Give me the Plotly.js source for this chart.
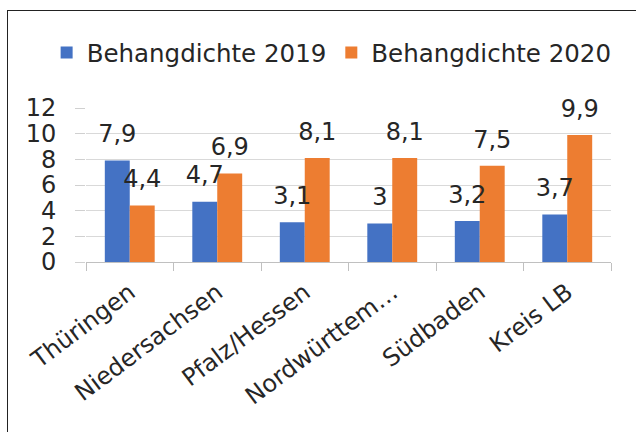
<!DOCTYPE html>
<html>
<head>
<meta charset="utf-8">
<script src="https://cdn.plot.ly/plotly-3.0.1.min.js"></script>
<style>
  html, body { margin: 0; padding: 0; background: #fff; }
  #wrap { position: relative; width: 636px; height: 432px; overflow: hidden; }
  #chart { position: absolute; left: 0; top: 0; width: 636px; height: 432px; }
  #frame { position: absolute; left: 7px; top: 10px; width: 700px; height: 600px;
           border: 1px solid #222; pointer-events: none; }
</style>
</head>
<body>
<div id="wrap">
  <div id="chart"></div>
  <div id="frame"></div>
</div>
<script>
const categories = ["Thüringen", "Niedersachsen", "Pfalz/Hessen", "Nordwürttem…", "Südbaden", "Kreis LB"];
const values2019 = [7.9, 4.7, 3.1, 3, 3.2, 3.7];
const values2020 = [4.4, 6.9, 8.1, 8.1, 7.5, 9.9];
const seriesNames = ["Behangdichte 2019", "Behangdichte 2020"];
const yTicks = [0, 2, 4, 6, 8, 10, 12];

const colors = ["#4472C4", "#ED7D31"];
const font = "DejaVu Sans";
const textColor = "#262626";
const fmt = v => String(v).replace(".", ",");

const series = [values2019, values2020];
const traces = [];
series.forEach((vals, i) => {
  traces.push({
    type: "bar",
    name: seriesNames[i],
    x: categories,
    y: vals,
    marker: { color: colors[i] },
    offsetgroup: "g" + i,
    hoverinfo: "skip"
  });
});
series.forEach((vals, i) => {
  traces.push({
    type: "scatter",
    mode: "markers+text",
    x: categories,
    y: vals,
    offsetgroup: "g" + i,
    text: vals.map(fmt),
    textposition: "top center",
    textfont: { family: font, size: 24, color: textColor },
    marker: { size: 18, opacity: 0 },
    showlegend: false,
    cliponaxis: false,
    hoverinfo: "skip"
  });
});

const layout = {
  width: 636,
  height: 432,
  margin: { l: 86, r: 25, t: 108, b: 170 },
  paper_bgcolor: "rgba(0,0,0,0)",
  plot_bgcolor: "#fff",
  font: { family: font, color: textColor },
  barmode: "group",
  bargap: 0.43,
  bargroupgap: 0,
  scattermode: "group",
  showlegend: true,
  legend: {
    orientation: "h",
    x: -0.075, xanchor: "left",
    y: 1.36, yanchor: "middle",
    font: { family: font, size: 24.5, color: textColor },
    traceorder: "normal"
  },
  xaxis: {
    type: "category",
    tickangle: -37,
    tickfont: { family: font, size: 24, color: textColor },
    showline: true,
    linecolor: "#c0c0c0",
    linewidth: 1,
    ticks: "outside",
    tickson: "boundaries",
    ticklen: 8,
    tickcolor: "#c0c0c0",
    showgrid: false,
    zeroline: false,
    ticklabelstandoff: 6
  },
  yaxis: {
    range: [0, 12],
    tickvals: yTicks,
    ticktext: yTicks.map(String),
    tickfont: { family: font, size: 24, color: textColor },
    showline: false,
    ticks: "outside",
    ticklen: 10,
    tickcolor: "#d0d0d0",
    gridcolor: "#d9d9d9",
    gridwidth: 1,
    zeroline: false,
    ticklabelstandoff: 14
  }
};

Plotly.newPlot("chart", traces, layout, { displayModeBar: false, staticPlot: true });
</script>
</body>
</html>
